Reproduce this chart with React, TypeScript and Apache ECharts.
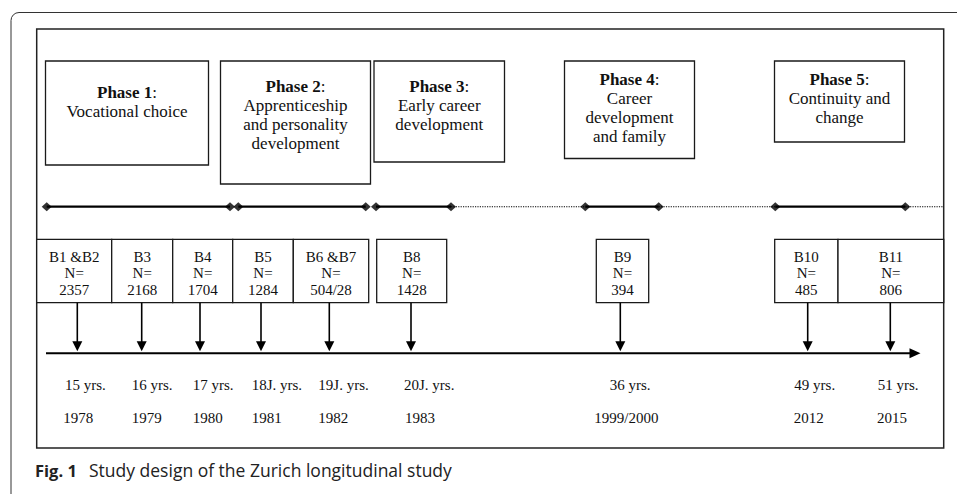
import React, { useEffect, useRef } from "react";
import * as echarts from "echarts";

// ---------- content ----------
const phaseTitles = ["Phase 1", "Phase 2", "Phase 3", "Phase 4", "Phase 5"];
const phaseLines = [
  ["Vocational choice"],
  ["Apprenticeship", "and personality", "development"],
  ["Early career", "development"],
  ["Career", "development", "and family"],
  ["Continuity and", "change"],
];
const waveLabels = ["B1 &B2", "B3", "B4", "B5", "B6 &B7", "B8", "B9", "B10", "B11"];
const waveN = ["2357", "2168", "1704", "1284", "504/28", "1428", "394", "485", "806"];
const ages = ["15 yrs.", "16 yrs.", "17 yrs.", "18J. yrs.", "19J. yrs.", "20J. yrs.", "36 yrs.", "49 yrs.", "51 yrs."];
const years = ["1978", "1979", "1980", "1981", "1982", "1983", "1999/2000", "2012", "2015"];
const captionLabel = "Fig. 1";
const captionText = "Study design of the Zurich longitudinal study";

// ---------- layout (diagram units) ----------
const phaseBoxes = [
  [45.5, 208.5, 61, 165],
  [220.5, 370.5, 61, 184],
  [374, 504.5, 61, 162],
  [564.5, 694.5, 61, 158.5],
  [774.5, 904.5, 61, 142],
];
const phaseTextTop = [92, 86, 86, 79, 79];
const solidSegments = [
  [46.7, 230],
  [238.3, 365.7],
  [376, 451],
  [585.3, 658.7],
  [775.3, 905.3],
];
const dottedSegments = [
  [451, 585.3],
  [658.7, 775.3],
  [905.3, 943.5],
];
const waveBoxes = [
  [36.7, 111.7],
  [111.7, 172.7],
  [172.7, 232.7],
  [232.7, 293.3],
  [293.3, 368.7],
  [376.7, 446.7],
  [596.3, 648.7],
  [774.7, 838],
  [838, 943.7],
];
const arrowX = [77.3, 141.7, 200, 261, 329.3, 411, 620.3, 807.7, 890.3];
const ageX = [65, 131.7, 192.7, 251.7, 318.3, 404, 609.7, 794.3, 877.7];
const yearX = [63.3, 131.7, 192.7, 251.7, 318.3, 405, 594.3, 793.7, 877];

const TIMELINE_Y = 206.7;
const WAVE_TOP = 239.3;
const WAVE_BOTTOM = 302.7;
const AXIS_Y = 353.3;
const AGE_Y = 385;
const YEAR_Y = 417.5;

const SERIF = "Liberation Serif";
const INK = "#111";
const LINE = "#1a1a1a";
const PHASE_FS = 17;

export default function App() {
  const ref = useRef<HTMLDivElement>(null);

  useEffect(() => {
    if (!ref.current) return;
    const chart = echarts.init(ref.current, null, { renderer: "svg" });
    const idx = (n: number) => Array.from({ length: n }, (_, i) => [i, 0]);

    const option: any = {
      animation: false,
      grid: { left: 0, right: 0, top: 0, bottom: 0 },
      xAxis: { type: "value", min: 0, max: 957, show: false },
      yAxis: { type: "value", min: 0, max: 494, inverse: true, show: false },
      graphic: [
        {
          type: "rect",
          shape: { x: 11, y: 12.5, width: 1000, height: 600, r: 8 },
          style: { fill: "none", stroke: "#333", lineWidth: 1 },
          silent: true,
        },
        {
          type: "rect",
          shape: { x: 36.7, y: 29, width: 907, height: 419 },
          style: { fill: "none", stroke: "#222", lineWidth: 1.5 },
          silent: true,
        },
        {
          type: "text",
          x: 35,
          y: 470,
          style: {
            text: captionLabel,
            font: 'bold 16.5px "Open Sans"',
            fill: "#222",
            align: "left",
            verticalAlign: "middle",
            textAlign: "left",
            textVerticalAlign: "middle",
          },
        },
        {
          type: "text",
          x: 89,
          y: 470,
          style: {
            text: captionText,
            font: '17.5px "Open Sans"',
            fill: "#222",
            align: "left",
            verticalAlign: "middle",
            textAlign: "left",
            textVerticalAlign: "middle",
          },
        },
      ],
      series: [
        // phase boxes
        {
          type: "custom",
          data: idx(phaseTitles.length),
          renderItem: (_p: any, api: any) => {
            const i = api.value(0);
            const [x0, x1, y0, y1] = phaseBoxes[i];
            const a = api.coord([x0, y0]);
            const b = api.coord([x1, y1]);
            const cx = (a[0] + b[0]) / 2;
            const top = api.coord([0, phaseTextTop[i]])[1];
            const children: any[] = [
              {
                type: "rect",
                shape: { x: a[0], y: a[1], width: b[0] - a[0], height: b[1] - a[1] },
                style: { fill: "#fff", stroke: LINE, lineWidth: 1.3 },
              },
              {
                type: "text",
                x: cx,
                y: top,
                style: {
                  text: `{b|${phaseTitles[i]}}:`,
                  fontSize: PHASE_FS,
                  fontFamily: SERIF,
                  fill: INK,
                  align: "center",
                  verticalAlign: "middle",
                  textAlign: "center",
                  textVerticalAlign: "middle",
                  rich: { b: { fontSize: PHASE_FS, fontFamily: SERIF, fontWeight: "bold", fill: INK } },
                },
              },
            ];
            phaseLines[i].forEach((ln, k) => {
              children.push({
                type: "text",
                x: cx,
                y: top + 19 * (k + 1),
                style: {
                  text: ln,
                  font: `${PHASE_FS}px "${SERIF}"`,
                  fill: INK,
                  align: "center",
                  verticalAlign: "middle",
                  textAlign: "center",
                  textVerticalAlign: "middle",
                },
              });
            });
            return { type: "group", children };
          },
        },
        // solid timeline segments
        {
          type: "custom",
          data: idx(solidSegments.length),
          renderItem: (_p: any, api: any) => {
            const [s, e] = solidSegments[api.value(0)];
            const a = api.coord([s, TIMELINE_Y]);
            const b = api.coord([e, TIMELINE_Y]);
            return {
              type: "line",
              shape: { x1: a[0], y1: a[1], x2: b[0], y2: b[1] },
              style: { stroke: "#000", lineWidth: 2.2 },
            };
          },
        },
        // dotted timeline segments
        {
          type: "custom",
          data: idx(dottedSegments.length),
          renderItem: (_p: any, api: any) => {
            const [s, e] = dottedSegments[api.value(0)];
            const a = api.coord([s, TIMELINE_Y]);
            const b = api.coord([e, TIMELINE_Y]);
            return {
              type: "line",
              shape: { x1: a[0], y1: a[1], x2: b[0], y2: b[1] },
              style: { stroke: "#000", lineWidth: 1.1, lineDash: [1.2, 1.2] },
            };
          },
        },
        // diamonds
        {
          type: "scatter",
          symbol: "diamond",
          symbolSize: [10, 9],
          itemStyle: { color: "#000" },
          data: solidSegments.flatMap(([s, e]) => [
            [s, TIMELINE_Y],
            [e, TIMELINE_Y],
          ]),
          z: 5,
        },
        // wave boxes
        {
          type: "custom",
          data: idx(waveLabels.length),
          renderItem: (_p: any, api: any) => {
            const i = api.value(0);
            const [x0, x1] = waveBoxes[i];
            const a = api.coord([x0, WAVE_TOP]);
            const b = api.coord([x1, WAVE_BOTTOM]);
            const cx = (a[0] + b[0]) / 2;
            const lines = [waveLabels[i], "N=", waveN[i]];
            const ys = [256.7, 273, 290];
            return {
              type: "group",
              children: [
                {
                  type: "rect",
                  shape: { x: a[0], y: a[1], width: b[0] - a[0], height: b[1] - a[1] },
                  style: { fill: "#fff", stroke: LINE, lineWidth: 1.3 },
                },
                ...lines.map((t, k) => ({
                  type: "text",
                  x: cx,
                  y: api.coord([0, ys[k]])[1],
                  style: {
                    text: t,
                    font: `15px "${SERIF}"`,
                    fill: INK,
                    align: "center",
                    verticalAlign: "middle",
                    textAlign: "center",
                    textVerticalAlign: "middle",
                  },
                })),
              ],
            };
          },
        },
        // vertical arrows
        {
          type: "custom",
          data: idx(arrowX.length),
          renderItem: (_p: any, api: any) => {
            const x = arrowX[api.value(0)];
            const top = api.coord([x, WAVE_BOTTOM]);
            const tip = api.coord([x, AXIS_Y - 2]);
            return {
              type: "group",
              children: [
                {
                  type: "line",
                  shape: { x1: top[0], y1: top[1], x2: tip[0], y2: tip[1] - 8 },
                  style: { stroke: "#000", lineWidth: 1.6 },
                },
                {
                  type: "polygon",
                  shape: {
                    points: [
                      [tip[0] - 5, tip[1] - 10],
                      [tip[0] + 5, tip[1] - 10],
                      [tip[0], tip[1]],
                    ],
                  },
                  style: { fill: "#000" },
                },
              ],
            };
          },
        },
        // horizontal time axis arrow
        {
          type: "custom",
          data: [[0, 0]],
          renderItem: (_p: any, api: any) => {
            const a = api.coord([46, AXIS_Y]);
            const b = api.coord([920.5, AXIS_Y]);
            return {
              type: "group",
              children: [
                {
                  type: "line",
                  shape: { x1: a[0], y1: a[1], x2: b[0] - 10, y2: b[1] },
                  style: { stroke: "#000", lineWidth: 2 },
                },
                {
                  type: "polygon",
                  shape: {
                    points: [
                      [b[0] - 11, b[1] - 5],
                      [b[0] - 11, b[1] + 5],
                      [b[0], b[1]],
                    ],
                  },
                  style: { fill: "#000" },
                },
              ],
            };
          },
        },
        // ages and years
        {
          type: "custom",
          data: idx(ages.length),
          renderItem: (_p: any, api: any) => {
            const i = api.value(0);
            const pa = api.coord([ageX[i], AGE_Y]);
            const py = api.coord([yearX[i], YEAR_Y]);
            const mk = (p: number[], t: string) => ({
              type: "text",
              x: p[0],
              y: p[1],
              style: {
                text: t,
                font: `15px "${SERIF}"`,
                fill: INK,
                align: "left",
                verticalAlign: "middle",
                textAlign: "left",
                textVerticalAlign: "middle",
              },
            });
            return { type: "group", children: [mk(pa, ages[i]), mk(py, years[i])] };
          },
        },
      ],
    };

    chart.setOption(option);
    return () => chart.dispose();
  }, []);

  return (
    <div
      ref={ref}
      style={{ position: "fixed", left: 0, top: 0, width: 957, height: 494, background: "#fff" }}
    />
  );
}
